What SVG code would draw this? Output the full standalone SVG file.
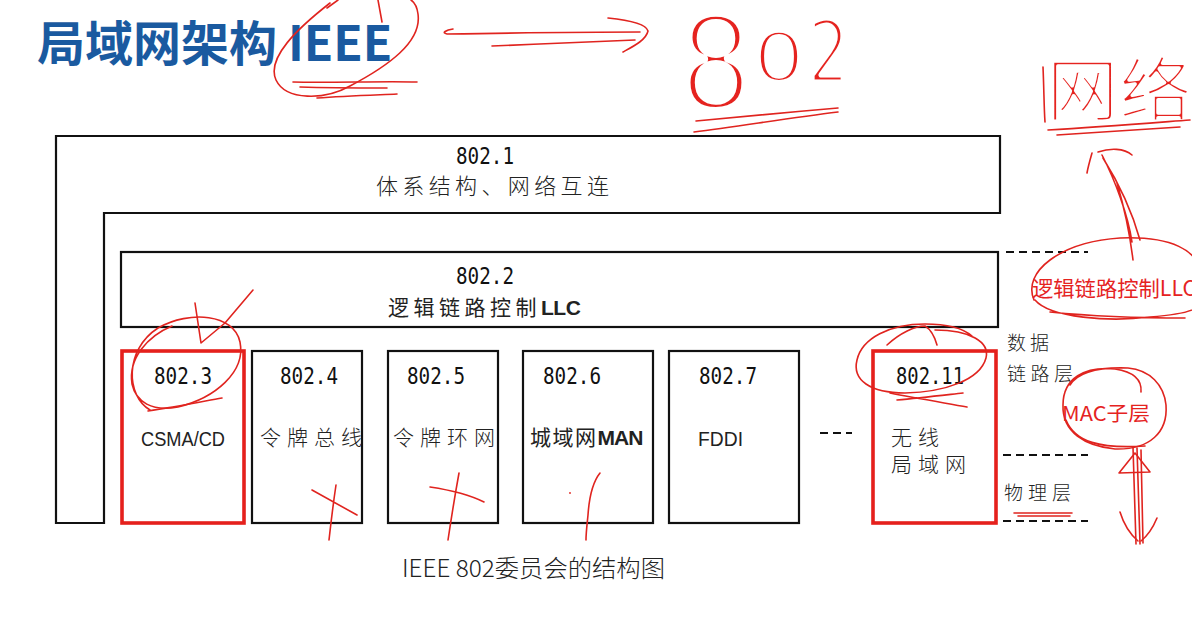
<svg xmlns="http://www.w3.org/2000/svg" width="1192" height="641" viewBox="0 0 1192 641">
  <style>
    .frame { fill: none; stroke: #111; stroke-width: 2.2; }
    .hot { fill: none; stroke: #e5201c; stroke-width: 3.6; }
    .num { font-family: "DejaVu Sans Mono", "Liberation Mono", monospace; font-size: 23px; fill: #111; }
    .lbl { font-family: "Liberation Sans", "Noto Sans CJK SC", sans-serif; font-size: 21px; fill: #222; }
    .cjk { font-family: "Noto Sans CJK SC", "Noto Sans CJK JP", sans-serif; font-weight: 300; fill: #222; }
    .dash { fill: none; stroke: #111; stroke-width: 2; stroke-dasharray: 8 5; }
    .pen { fill: none; stroke: #e0241f; stroke-width: 1.6; stroke-linecap: round; stroke-linejoin: round; }
    .pentext { fill: #e5231f; }
    /* white outline eats into the glyphs so they read as thin pen strokes */
    .scrawl { fill: #e5231f; stroke: #ffffff; stroke-linejoin: round; }
  </style>

  <rect width="1192" height="641" fill="#ffffff"/>

  <!-- title -->
  <g id="title">
    <text x="37" y="61" font-family="'Noto Sans CJK SC', 'Liberation Sans', sans-serif" font-weight="700" font-size="48" fill="#1a5aa0">局域网架构 IEEE</text>
  </g>

  <!-- 802.1: L-shaped frame wrapping the whole stack -->
  <g id="n8021">
    <path class="frame" d="M56,136 H1000 V213 H104 V523 H56 Z"/>
    <text class="num" x="456" y="164" textLength="58" lengthAdjust="spacingAndGlyphs">802.1</text>
    <text class="cjk" x="376" y="194" font-size="22" textLength="233" lengthAdjust="spacing">体系结构、网络互连</text>
  </g>

  <!-- 802.2 LLC -->
  <g id="n8022">
    <rect class="frame" x="121" y="252" width="877" height="75"/>
    <text class="num" x="456" y="284" textLength="58" lengthAdjust="spacingAndGlyphs">802.2</text>
    <text class="lbl" x="388" y="315"><tspan letter-spacing="4.5">逻辑链路控制</tspan><tspan font-weight="700" letter-spacing="-0.5">LLC</tspan></text>
  </g>

  <!-- MAC-level standards -->
  <g id="n8023">
    <rect class="hot" x="122" y="351" width="122" height="172"/>
    <text class="num" x="154" y="384" textLength="58" lengthAdjust="spacingAndGlyphs">802.3</text>
    <text class="lbl" x="141" y="446" textLength="84" lengthAdjust="spacingAndGlyphs">CSMA/CD</text>
  </g>
  <g id="n8024">
    <rect class="frame" x="252" y="351" width="110" height="172"/>
    <text class="num" x="280" y="384" textLength="58" lengthAdjust="spacingAndGlyphs">802.4</text>
    <text class="cjk" x="260" y="445" font-size="21" textLength="102" lengthAdjust="spacing">令牌总线</text>
  </g>
  <g id="n8025">
    <rect class="frame" x="388" y="351" width="110" height="172"/>
    <text class="num" x="407" y="384" textLength="58" lengthAdjust="spacingAndGlyphs">802.5</text>
    <text class="cjk" x="393" y="445" font-size="21" textLength="102" lengthAdjust="spacing">令牌环网</text>
  </g>
  <g id="n8026">
    <rect class="frame" x="523" y="351" width="130" height="172"/>
    <text class="num" x="543" y="384" textLength="58" lengthAdjust="spacingAndGlyphs">802.6</text>
    <text class="lbl" x="530" y="445"><tspan letter-spacing="1.5">城域网</tspan><tspan font-weight="700" letter-spacing="-1">MAN</tspan></text>
  </g>
  <g id="n8027">
    <rect class="frame" x="669" y="351" width="130" height="172"/>
    <text class="num" x="699" y="384" textLength="58" lengthAdjust="spacingAndGlyphs">802.7</text>
    <text class="lbl" x="698" y="446" textLength="45" lengthAdjust="spacingAndGlyphs">FDDI</text>
  </g>
  <g id="ellipsis">
    <line class="dash" x1="820" y1="433" x2="852" y2="433" stroke-dasharray="7 5"/>
  </g>
  <g id="n80211">
    <rect class="hot" x="873" y="351" width="123" height="172"/>
    <text class="num" x="896" y="384" textLength="68" lengthAdjust="spacingAndGlyphs">802.11</text>
    <text class="cjk" x="891" y="445" font-size="21" textLength="48" lengthAdjust="spacing">无线</text>
    <text class="cjk" x="891" y="472" font-size="21" textLength="75" lengthAdjust="spacing">局域网</text>
  </g>

  <!-- layer brackets on the right -->
  <g id="layers">
    <line class="dash" x1="1006" y1="252" x2="1088" y2="252"/>
    <line class="dash" x1="1003" y1="455" x2="1088" y2="455"/>
    <line class="dash" x1="1003" y1="521" x2="1088" y2="521"/>
    <text class="cjk" x="1007" y="350" font-size="19" textLength="42" lengthAdjust="spacing">数据</text>
    <text class="cjk" x="1007" y="381" font-size="19" textLength="66" lengthAdjust="spacing">链路层</text>
    <text class="cjk" x="1004" y="500" font-size="19" textLength="67" lengthAdjust="spacing">物理层</text>
  </g>

  <g id="caption">
    <text class="cjk" x="402" y="577" font-size="24" font-weight="400" fill="#222" textLength="263" lengthAdjust="spacingAndGlyphs">IEEE 802委员会的结构图</text>
  </g>

  <!-- pen annotations -->
  <g id="notes">
    <!-- loop around IEEE -->
    <path class="pen" d="M330,3 C298,28 266,58 276,80 C286,101 325,100 350,86 C388,66 422,42 418,14 C417,6 414,2 411,0"/>
    <path class="pen" d="M327,8 L338,0 M378,0 L382,22"/>
    <path class="pen" d="M293,82 C330,83 380,81 417,82 M300,87 C330,88 360,88 387,88 M317,98 C345,96 375,95 397,94"/>
    <!-- arrow to 802 -->
    <path class="pen" d="M453,29 C446,30 441,33 447,34 C510,33 580,32 640,32"/>
    <path class="pen" d="M492,46 C540,44 590,42 635,40"/>
    <path class="pen" d="M608,18 C628,20 646,24 648,31 C646,40 634,46 623,52"/>
    <text class="scrawl" font-family="'DejaVu Sans', sans-serif"><tspan x="679" y="109" font-size="130" stroke-width="8" textLength="74" lengthAdjust="spacingAndGlyphs">8</tspan><tspan x="753" y="81" font-size="68" stroke-width="4" textLength="52" lengthAdjust="spacingAndGlyphs">0</tspan><tspan x="808" y="82" font-size="86" stroke-width="5" textLength="41" lengthAdjust="spacingAndGlyphs">2</tspan></text>
    <path class="pen" d="M696,121 C740,117 790,112 838,108 M694,132 C740,126 790,118 838,112"/>
    <!-- handwritten note top right -->
    <text class="scrawl" font-family="'Noto Sans CJK SC', sans-serif" x="1046" y="116" font-size="70" stroke-width="3.5" textLength="146" lengthAdjust="spacingAndGlyphs">网络</text>
    <path class="pen" d="M1043,67 C1044,90 1044,108 1045,122"/>
    <path class="pen" d="M1048,130 C1100,127 1150,123 1190,120 M1057,135 C1100,132 1150,129 1180,127"/>
    <path class="pen" d="M1092,153 C1090,160 1088,167 1087,173 M1098,152 C1110,148 1124,148 1132,155"/>
    <path class="pen" d="M1102,155 C1115,180 1128,215 1132,242 M1103,158 C1120,185 1133,215 1140,240 M1117,183 C1125,210 1130,235 1133,260"/>
    <!-- LLC note and its ellipse -->
    <text class="pentext" font-family="'Noto Sans CJK SC', sans-serif" x="1032" y="296" font-size="21" textLength="164" lengthAdjust="spacingAndGlyphs">逻辑链路控制LLC</text>
    <path class="pen" d="M1034,300 C1022,272 1060,242 1120,238 C1170,236 1200,250 1200,275 M1035,300 C1050,318 1110,322 1150,317 C1175,315 1190,312 1196,308 M1050,312 C1090,316 1140,318 1185,318"/>
    <!-- MAC note with circle and arrow -->
    <text class="pentext" font-family="'Noto Sans CJK SC', sans-serif" x="1062" y="421" font-size="20" textLength="88" lengthAdjust="spacingAndGlyphs">MAC子层</text>
    <path class="pen" d="M1141,392 C1142,380 1135,372 1115,369 C1085,366 1063,378 1063,405 C1062,432 1085,446 1115,449 C1150,450 1168,432 1166,405 C1164,385 1150,370 1128,368 C1100,367 1078,372 1070,385"/>
    <path class="pen" d="M1066,420 C1075,442 1100,449 1145,446"/>
    <path class="pen" d="M1133,447 L1136,544 M1137,448 L1140,544 M1141,450 L1143,543"/>
    <path class="pen" d="M1135,453 L1119,473 L1150,472 Z"/>
    <path class="pen" d="M1120,512 C1124,525 1131,535 1138,541 M1157,518 C1152,530 1146,537 1141,541"/>
    <path class="pen" d="M1014,513 L1072,513 M1018,516 L1070,516"/>
    <!-- marks on 802.3 -->
    <path class="pen" d="M150,410 C126,396 124,350 158,328 C190,310 234,314 240,342 C246,372 215,398 178,407 C152,412 136,402 132,384 C128,358 148,336 172,326"/>
    <path class="pen" d="M148,411 C175,407 200,402 222,398"/>
    <path class="pen" d="M195,303 L201,343 L225,323 L253,290"/>
    <!-- marks on 802.11 -->
    <path class="pen" d="M935,330 C970,330 990,342 986,358 C980,380 945,392 905,393 C870,393 852,380 857,360 C862,338 890,324 925,324 C950,324 965,330 972,336"/>
    <path class="pen" d="M887,345 C900,333 915,326 925,326 C932,330 935,338 937,345"/>
    <path class="pen" d="M890,393 C915,398 945,403 967,407 M897,400 C920,398 945,395 963,393"/>
    <!-- crosses under 802.4 / 802.5 / 802.6 -->
    <path class="pen" d="M312,490 L357,515 M336,485 C333,505 331,522 329,540"/>
    <path class="pen" d="M430,487 C450,490 470,495 484,502 M459,473 C455,495 451,520 448,540"/>
    <path class="pen" d="M600,473 C592,483 589,500 588,515 C587,525 586,533 586,540"/>
    <circle cx="570" cy="493" r="0.9" fill="#e0241f"/>
  </g>
</svg>
